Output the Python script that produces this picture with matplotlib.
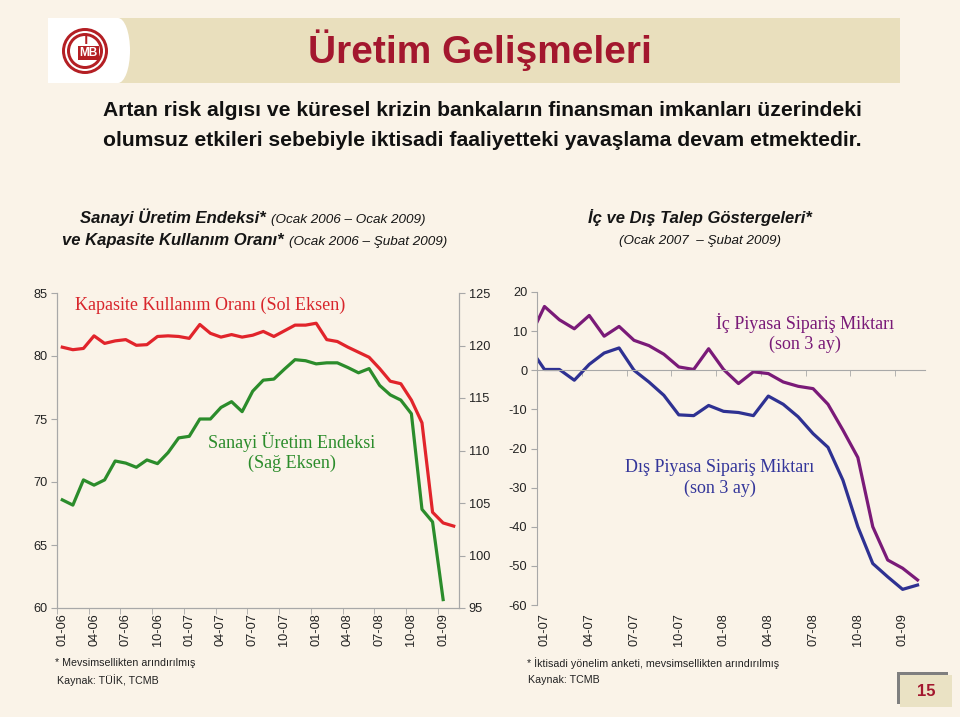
import matplotlib
matplotlib.use('Agg')
import matplotlib.pyplot as plt
from matplotlib.patches import Rectangle, Ellipse, Circle
from matplotlib.offsetbox import TextArea, HPacker, AnnotationBbox

plt.rcParams['axes.unicode_minus'] = False
plt.rcParams['font.family'] = ['Liberation Sans', 'DejaVu Sans']

# Kapasite Kullanim Orani, Ocak 2006 - Subat 2009 (sol eksen)
kko = [80.7, 80.5, 80.6, 81.6, 81.0, 81.2, 81.3, 80.85, 80.9, 81.55, 81.6, 81.55,
       81.4, 82.5, 81.8, 81.5, 81.7, 81.5, 81.65, 81.95, 81.55, 82.0, 82.45, 82.45,
       82.6, 81.3, 81.15, 80.7, 80.3, 79.9, 79.0, 78.0, 77.8, 76.5, 74.7, 67.6,
       66.75, 66.5]
# Sanayi Uretim Endeksi, Ocak 2006 - Ocak 2009 (sag eksen)
sue = [105.3, 104.8, 107.2, 106.7, 107.2, 109.0, 108.8, 108.4, 109.1, 108.75, 109.8, 111.2,
       111.35, 113.0, 113.0, 114.1, 114.65, 113.7, 115.65, 116.7, 116.8, 117.75, 118.65, 118.55,
       118.25, 118.35, 118.35, 117.9, 117.4, 117.8, 116.2, 115.3, 114.8, 113.5, 104.4, 103.2,
       95.8]
left_labels = ['01-06', '04-06', '07-06', '10-06', '01-07', '04-07', '07-07',
               '10-07', '01-08', '04-08', '07-08', '10-08', '01-09']

# Ic / Dis piyasa siparis miktari, Aralik 2006 - Subat 2009
ic = [8.3, 16.3, 12.9, 10.6, 14.0, 8.7, 11.2, 7.65, 6.3, 4.1, 0.85, 0.2, 5.5, 0.2,
      -3.4, -0.4, -0.85, -3.0, -4.1, -4.7, -8.7, -15.3, -22.3, -40.0, -48.5, -50.6, -53.6]
dis = [5.8, 0.2, 0.2, -2.55, 1.5, 4.4, 5.7, 0.0, -3.0, -6.4, -11.4, -11.6, -9.0, -10.5,
       -10.8, -11.6, -6.6, -8.7, -11.9, -16.2, -19.7, -28.1, -40.0, -49.4, -52.8, -56.0, -54.9]
right_labels = ['01-07', '04-07', '07-07', '10-07', '01-08', '04-08', '07-08', '10-08', '01-09']

BG = '#FAF3E8'
SANS = 'Liberation Sans'
SERIF = 'Liberation Serif'
AXC = '#A8A8A8'
TICK = 9.2

W, H = 960, 717
fig = plt.figure(figsize=(9.6, 7.17), dpi=100, facecolor=BG)

bg = fig.add_axes([0, 0, 1, 1])
bg.set_xlim(0, W)
bg.set_ylim(H, 0)
bg.axis('off')

# baslik bandi ve logo
bg.add_patch(Rectangle((118, 18), 782, 65, color='#E9DFBD', lw=0))
bg.add_patch(Rectangle((48, 18), 70, 65, color='white', lw=0))
bg.add_patch(Ellipse((118, 50.5), 24, 65, color='white', lw=0))
logo_red = '#B41F24'
bg.add_patch(Circle((85, 51), 23, color=logo_red, lw=0))
bg.add_patch(Circle((85, 51), 20, color='white', lw=0))
bg.add_patch(Circle((85, 51), 18, color=logo_red, lw=0))
bg.add_patch(Circle((85, 51), 15, color='white', lw=0))
bg.add_patch(Rectangle((78, 46), 21, 14, color=logo_red, lw=0))
bg.text(86, 40, 'T', ha='center', va='center', fontsize=10, fontweight='bold',
        color=logo_red, family=SANS)
bg.text(88.5, 53.5, 'MB', ha='center', va='center', fontsize=8.5, fontweight='bold',
        color='white', family=SANS)

bg.text(480, 50, 'Üretim Gelişmeleri', ha='center', va='center', fontsize=28,
        fontweight='bold', color='#A3172E', family=SANS)
bg.text(482, 111, 'Artan risk algısı ve küresel krizin bankaların finansman imkanları üzerindeki',
        ha='center', va='center', fontsize=15.2, fontweight='bold', color='#111111', family=SANS)
bg.text(482, 141, 'olumsuz etkileri sebebiyle iktisadi faaliyetteki yavaşlama devam etmektedir.',
        ha='center', va='center', fontsize=15.2, fontweight='bold', color='#111111', family=SANS)


def mixed(bold, rest, x, y):
    boxes = [TextArea(bold, textprops=dict(fontsize=12, fontweight='bold', fontstyle='italic',
                                           family=SANS, color='#151515')),
             TextArea(rest, textprops=dict(fontsize=9.7, fontstyle='italic',
                                           family=SANS, color='#151515'))]
    pack = HPacker(children=boxes, align='baseline', pad=0, sep=4)
    ab = AnnotationBbox(pack, (x, y), xycoords=bg.transData, frameon=False,
                        box_alignment=(0.5, 0.5), pad=0)
    bg.add_artist(ab)


mixed('Sanayi Üretim Endeksi*', '(Ocak 2006 – Ocak 2009)', 253, 217)
mixed('ve Kapasite Kullanım Oranı*', '(Ocak 2006 – Şubat 2009)', 255, 241)
bg.text(700, 217, 'İç ve Dış Talep Göstergeleri*', ha='center', va='center', fontsize=12,
        fontweight='bold', fontstyle='italic', family=SANS, color='#151515')
bg.text(700, 241, '(Ocak 2007  – Şubat 2009)', ha='center', va='center', fontsize=9.7,
        fontstyle='italic', family=SANS, color='#151515')

# dipnotlar
fn = dict(fontsize=7.7, family=SANS, color='#222222', va='center', ha='left')
bg.text(55, 663, '* Mevsimsellikten arındırılmış', **fn)
bg.text(57, 680, 'Kaynak: TÜİK, TCMB', **fn)
bg.text(527, 663, '* İktisadi yönelim anketi, mevsimsellikten arındırılmış', **fn)
bg.text(528, 680, 'Kaynak: TCMB', **fn)

# sayfa numarasi
bg.add_patch(Rectangle((897, 672), 51, 32, color='#7F7F7F', lw=0))
bg.add_patch(Rectangle((900, 675), 52, 32, color='#EAE2C4', lw=0))
bg.text(926, 691, '15', ha='center', va='center', fontsize=12, fontweight='bold',
        color='#A3172E', family=SANS)


def fr(x0, y0, x1, y1):
    return [x0 / W, 1 - y1 / H, (x1 - x0) / W, (y1 - y0) / H]


# ---- sol grafik ----
ax = fig.add_axes(fr(57, 293, 459, 608))
ax.set_facecolor('none')
ax2 = ax.twinx()
ax.plot(range(len(kko)), kko, color='#E1242B', lw=2.3, zorder=3)
ax2.plot(range(len(sue)), sue, color='#2B8C2B', lw=2.3)
ax.set_xlim(-0.5, 37.5)
ax.set_ylim(60, 85)
ax2.set_ylim(95, 125)
ax.set_yticks(range(60, 86, 5))
ax2.set_yticks(range(95, 126, 5))
ax.set_xticks(range(0, 37, 3))
ax.set_xticklabels(left_labels)
ax.set_xticks([i - 0.5 for i in range(0, 37, 3)], minor=True)
ax.tick_params(axis='x', which='major', length=0, pad=4, labelrotation=90,
               labelsize=TICK, labelcolor='#222222')
ax.tick_params(axis='x', which='minor', length=4, color=AXC, direction='out')
for a in (ax, ax2):
    a.tick_params(axis='y', length=4, color=AXC, labelsize=TICK, labelcolor='#222222', pad=3)
    a.spines['top'].set_visible(False)
    for s in ('left', 'right', 'bottom'):
        a.spines[s].set_color(AXC)
ax.text(75 / W, 1 - 305 / H, 'Kapasite Kullanım Oranı (Sol Eksen)', transform=fig.transFigure,
        ha='left', va='center', fontsize=13, family=SERIF, color='#D8262C')
ax.text(292 / W, 1 - 452 / H, 'Sanayi Üretim Endeksi\n(Sağ Eksen)', transform=fig.transFigure,
        ha='center', va='center', fontsize=13, family=SERIF, color='#2B8C2B',
        linespacing=1.25)

# ---- sag grafik ----
bx = fig.add_axes(fr(537, 292, 925, 605))
bx.set_facecolor('none')
xs = range(-1, len(ic) - 1)
bx.plot(xs, ic, color='#7A1A78', lw=2.3)
bx.plot(xs, dis, color='#2E3192', lw=2.3)
bx.set_xlim(-0.5, 25.5)
bx.set_ylim(-60, 20)
bx.set_yticks(range(-60, 21, 10))
bx.set_xticks(range(0, 25, 3))
bx.set_xticklabels(right_labels)
bx.set_xticks([i - 0.5 for i in range(0, 25, 3)], minor=True)
bx.tick_params(axis='x', which='major', bottom=True, top=False, length=0, pad=6,
               labelsize=TICK, labelcolor='#222222', labelrotation=90)
bx.tick_params(axis='x', which='minor', top=True, bottom=False, length=4,
               direction='in', color=AXC)
bx.tick_params(axis='y', length=4, color=AXC, labelsize=TICK, labelcolor='#222222', pad=3)
bx.spines['right'].set_visible(False)
bx.spines['bottom'].set_visible(False)
bx.spines['left'].set_color(AXC)
bx.spines['top'].set_color(AXC)
bx.spines['top'].set_position(('data', 0))
bx.text(805 / W, 1 - 333 / H, 'İç Piyasa Sipariş Miktarı\n(son 3 ay)', transform=fig.transFigure,
        ha='center', va='center', fontsize=13, family=SERIF, color='#7A1A78',
        linespacing=1.25)
bx.text(720 / W, 1 - 478 / H, 'Dış Piyasa Sipariş Miktarı\n(son 3 ay)', transform=fig.transFigure,
        ha='center', va='center', fontsize=13, family=SERIF, color='#34369A',
        linespacing=1.25)

fig.savefig('out.png', dpi=100, facecolor=BG)
